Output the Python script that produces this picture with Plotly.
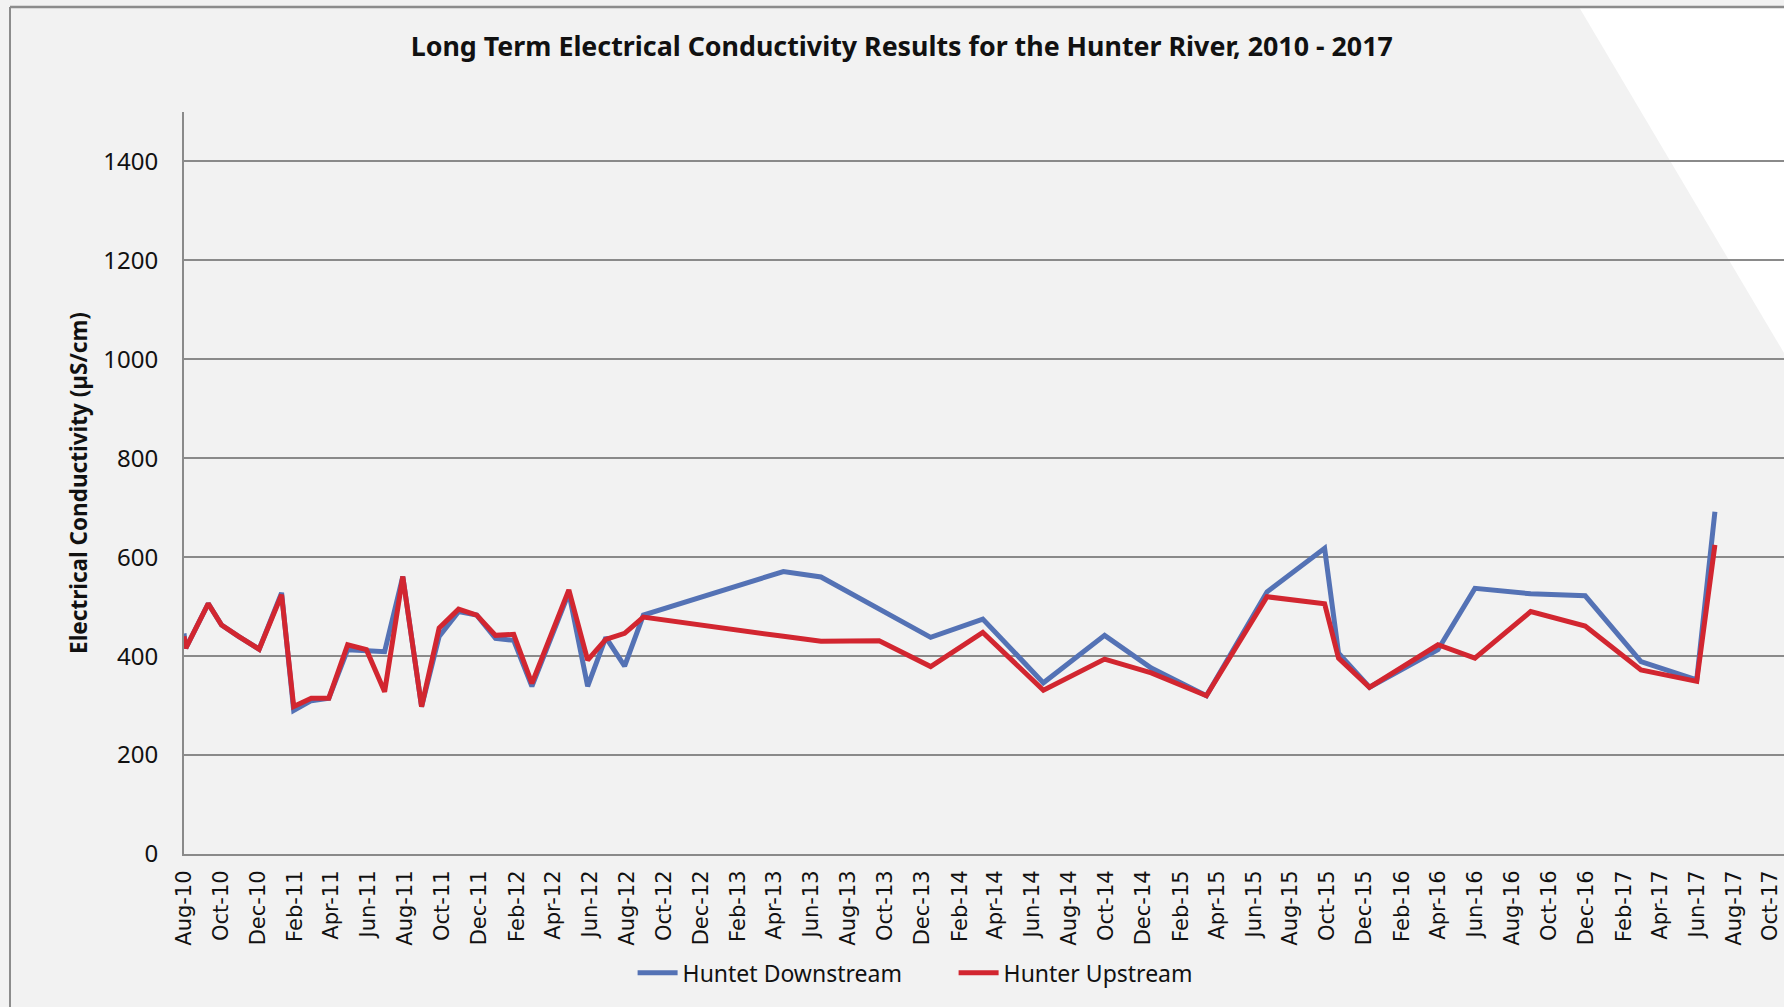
import plotly.graph_objects as go

# ---- data ----
sample_dates = [
    "2010-08-01", "2010-08-04", "2010-09-10", "2010-10-02", "2010-10-30", "2010-12-03",
    "2011-01-09", "2011-01-29", "2011-02-27", "2011-03-28", "2011-04-28", "2011-05-29",
    "2011-06-28", "2011-07-28", "2011-08-28", "2011-09-26", "2011-10-28", "2011-11-27",
    "2011-12-28", "2012-01-27", "2012-02-26", "2012-04-27", "2012-05-28", "2012-06-27",
    "2012-07-28", "2012-08-28", "2013-04-16", "2013-06-17", "2013-09-21", "2013-12-15",
    "2014-03-11", "2014-06-19", "2014-09-28", "2014-12-14", "2015-03-15", "2015-06-23",
    "2015-09-26", "2015-10-19", "2015-12-09", "2016-03-31", "2016-05-31", "2016-08-31",
    "2016-11-29", "2017-03-01", "2017-06-01", "2017-07-01",
]

downstream = [
    446, 416, 506, 463, 440, 414,
    528, 290, 310, 315, 413, 410,
    409, 561, 298, 440, 490, 483,
    436, 432, 339, 528, 339, 438,
    380, 483, 571, 560, None, 438,
    475, 346, 442, 376, 320, 530,
    618, 406, 337, 413, 537, 526,
    522, 389, 352, 692,
]

upstream = [
    440, 416, 506, 463, 440, 414,
    524, 298, 315, 315, 423, 413,
    328, 561, 298, 457, 495, 483,
    442, 444, 345, 534, 392, 434,
    446, 479, 440, 430, 431, 379,
    448, 331, 394, 366, 320, 520,
    506, 396, 337, 423, 396, 490,
    461, 372, 349, 625,
]

series_names = ["Huntet Downstream", "Hunter Upstream"]
series_colors = ["#5472B5", "#D22630"]

title_text = "Long Term Electrical Conductivity Results for the Hunter River, 2010 - 2017"
y_title = "Electrical Conductivity (µS/cm)"

# ---- figure ----
W, H = 1784, 1007
L, R, T, B = 184, 0, 112, 153

fig = go.Figure()
for name, vals, col in zip(series_names, [downstream, upstream], series_colors):
    fig.add_trace(go.Scatter(
        x=sample_dates, y=vals, name=name, mode="lines",
        line=dict(color=col, width=5), connectgaps=True,
    ))

grid_col = "#8A8A8A"

fig.update_layout(
    width=W, height=H,
    margin=dict(l=L, r=R, t=T, b=B, pad=0),
    paper_bgcolor="#F2F2F2",
    plot_bgcolor="rgba(0,0,0,0)",
    title=dict(
        text=title_text,
        font=dict(family="Noto Sans", size=26.8, color="#111111", weight="bold"),
        x=0.4486, xref="paper", xanchor="center",
        y=1 - 46.6 / H, yref="container", yanchor="middle",
    ),
    xaxis=dict(
        type="date",
        range=["2010-08-01", "2017-10-23"],
        tick0="2010-08-01", dtick="M2", tickformat="%b-%y",
        tickangle=-90,
        tickfont=dict(family="DejaVu Sans", size=21, color="#111111"),
        showgrid=False, zeroline=False,
        showline=True, linecolor=grid_col, linewidth=2,
        ticks="", ticklabelstandoff=6,
    ),
    yaxis=dict(
        range=[0, 1500], tickvals=[0, 200, 400, 600, 800, 1000, 1200, 1400],
        tickfont=dict(family="Noto Sans", size=24, color="#111111"),
        showgrid=True, gridcolor=grid_col, gridwidth=1.6,
        zeroline=False,
        showline=True, linecolor=grid_col, linewidth=2,
        ticks="", ticklabelstandoff=19,
        title=dict(text=y_title, standoff=9,
                   font=dict(family="Noto Sans", size=22.5, color="#111111", weight="bold")),
    ),
    legend=dict(
        orientation="h", x=0.481, xanchor="center", y=-0.16, yanchor="middle",
        font=dict(family="Noto Sans", size=23, color="#111111"),
        bgcolor="rgba(0,0,0,0)", entrywidth=266, itemwidth=40,
    ),
    showlegend=True,
)

# white wedge in the upper right of the background
px_to_x = lambda px: (px - L) / (W - L - R)
py_to_y = lambda py: (H - B - py) / (H - T - B)
fig.add_shape(
    type="path", xref="paper", yref="paper", layer="below",
    path=f"M {px_to_x(1579)},{py_to_y(7)} L {px_to_x(1784)},{py_to_y(7)} L {px_to_x(1784)},{py_to_y(353)} Z",
    fillcolor="#FFFFFF", line=dict(width=0),
)
# chart-area border (top and left)
fig.add_shape(type="line", xref="paper", yref="paper", layer="above",
              x0=px_to_x(10), x1=px_to_x(1784), y0=py_to_y(7), y1=py_to_y(7),
              line=dict(color="#8C8C8C", width=2.5))
fig.add_shape(type="line", xref="paper", yref="paper", layer="above",
              x0=px_to_x(10), x1=px_to_x(10), y0=py_to_y(7), y1=py_to_y(1007),
              line=dict(color="#8C8C8C", width=2))

fig.write_html(
    "out.html",
    config={"displayModeBar": False},
    post_script="document.body.style.margin='0';document.body.style.overflow='hidden';",
)
